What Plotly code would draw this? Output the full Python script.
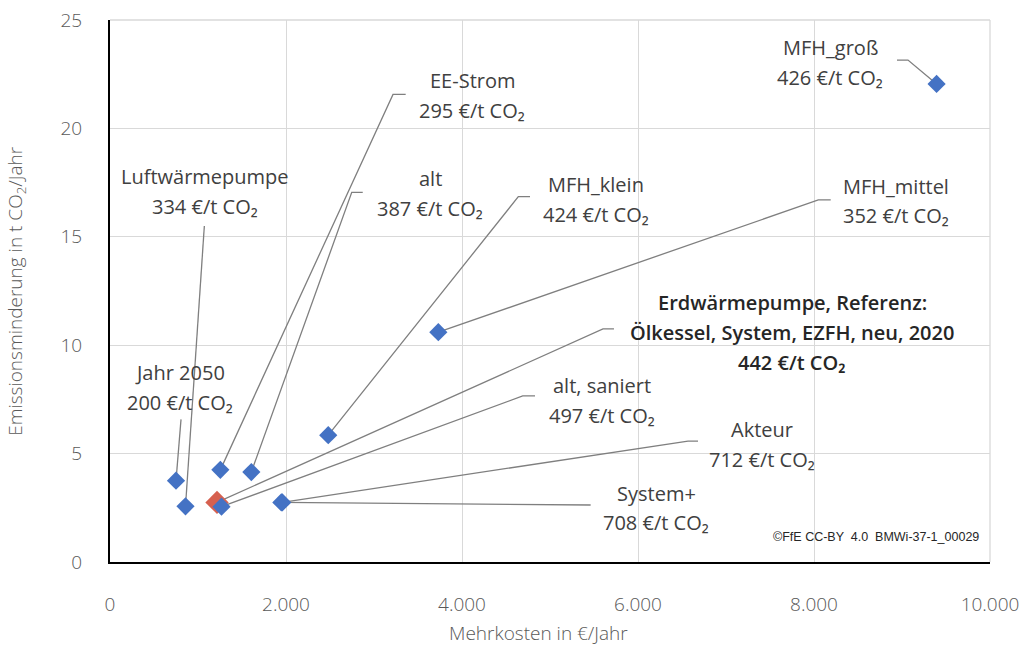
import plotly.graph_objects as go

# Heating options: additional cost (EUR/year) vs. CO2 reduction (t/year)
names = ["Jahr 2050", "Luftwärmepumpe", "EE-Strom", "alt", "alt, saniert",
         "System+", "Akteur", "MFH_klein", "MFH_mittel", "MFH_groß"]
mehrkosten = [750, 858, 1254, 1606, 1267, 1947, 1958, 2480, 3731, 9393]
minderung = [3.75, 2.57, 4.25, 4.15, 2.55, 2.75, 2.75, 5.85, 10.6, 22.05]
vermeidungskosten = [200, 334, 295, 387, 497, 708, 712, 424, 352, 426]

# Reference case (ground-source heat pump vs. oil boiler)
ref_name = ["Erdwärmepumpe, Referenz:", "Ölkessel, System, EZFH, neu, 2020"]
ref_kosten = [1216]
ref_minderung = [2.75]
ref_vermeidung = [442]

x_ticks = [0, 2000, 4000, 6000, 8000, 10000]
x_ticklabels = ["0", "2.000", "4.000", "6.000", "8.000", "10.000"]
y_ticks = [0, 5, 10, 15, 20, 25]

# Label placement: text centre (x, y of first line) and leader path (elbow, end)
label_layout = {
    "Jahr 2050":      dict(tx=795,  ty=8.73,  path=[(807, 6.58)]),
    "Luftwärmepumpe": dict(tx=1080, ty=17.76, path=[(1072, 15.5)]),
    "EE-Strom":       dict(tx=4114, ty=22.20, path=[(3216, 21.57), (3360, 21.57)]),
    "alt":            dict(tx=3640, ty=17.70, path=[(2747, 17.05), (2872, 17.05)]),
    "alt, saniert":   dict(tx=5590, ty=8.16,  path=[(4690, 7.66), (4830, 7.66)]),
    "System+":        dict(tx=6205, ty=3.18,  path=[(5341, 2.61), (5462, 2.63)]),
    "Akteur":         dict(tx=7410, ty=6.09,  path=[(6568, 5.58), (6682, 5.58)]),
    "MFH_klein":      dict(tx=5523, ty=17.40, path=[(4640, 16.85), (4773, 16.85)]),
    "MFH_mittel":     dict(tx=8930, ty=17.34, path=[(8049, 16.70), (8190, 16.70)]),
    "MFH_groß":       dict(tx=8187, ty=23.75, path=[(9068, 23.15), (8943, 23.15)]),
}
ref_layout = dict(tx=7750, ty=11.97, path=[(5602, 10.75), (5727, 10.75)])
LINE_GAP = 1.38

FONT = "Open Sans"
TEXT = "#404040"
LEADER = "#7f7f7f"
GRID = "#d9d9d9"

fig = go.Figure()


def leader(x0, y0, path):
    xs = [x0] + [p[0] for p in path]
    ys = [y0] + [p[1] for p in path]
    fig.add_trace(go.Scatter(x=xs, y=ys, mode="lines", hoverinfo="skip",
                             line=dict(color=LEADER, width=1.3), showlegend=False))


for n, xv, yv in zip(names, mehrkosten, minderung):
    leader(xv, yv, label_layout[n]["path"])
leader(ref_kosten[0], ref_minderung[0], ref_layout["path"])

fig.add_trace(go.Scatter(x=ref_kosten, y=ref_minderung, mode="markers",
                         marker=dict(symbol="diamond", size=18, color="#d6604f"),
                         showlegend=False))
fig.add_trace(go.Scatter(x=mehrkosten, y=minderung, mode="markers",
                         marker=dict(symbol="diamond", size=14, color="#4472c4"),
                         showlegend=False))

annotations = []
for n, v in zip(names, vermeidungskosten):
    lay = label_layout[n]
    for i, line in enumerate([n, f"{v} €/t CO₂"]):
        annotations.append(dict(x=lay["tx"], y=lay["ty"] - i * LINE_GAP, xref="x", yref="y",
                                text=line, showarrow=False, xanchor="center", yanchor="middle",
                                font=dict(family=FONT, size=20, color=TEXT)))
ref_lines = ref_name + [f"{ref_vermeidung[0]} €/t CO₂"]
for i, line in enumerate(ref_lines):
    annotations.append(dict(x=ref_layout["tx"], y=ref_layout["ty"] - i * LINE_GAP, xref="x", yref="y",
                            text=line, showarrow=False, xanchor="center", yanchor="middle",
                            font=dict(family=FONT, size=20, color="#262626", weight=600)))

# copyright note
annotations.append(dict(x=(981 - 110) / 880, y=(562 - 537) / 542, xref="paper", yref="paper",
                        text="©FfE CC-BY  4.0  BMWi-37-1_00029", showarrow=False,
                        xanchor="right", yanchor="middle",
                        font=dict(family="Liberation Sans", size=12.5, color="#262626")))

# axis titles
annotations.append(dict(x=0.487, y=-0.131, xref="paper", yref="paper", showarrow=False,
                        text="Mehrkosten in €/Jahr", xanchor="center", yanchor="middle",
                        font=dict(family=FONT, size=19, color="#595959", weight=300)))
annotations.append(dict(x=-0.107, y=0.5, xref="paper", yref="paper", showarrow=False,
                        text="Emissionsminderung in t CO<sub>2</sub>/Jahr", textangle=-90,
                        xanchor="center", yanchor="middle",
                        font=dict(family=FONT, size=19, color="#595959", weight=300)))

# light frame on the top and right edges of the plot area
shapes = [
    dict(type="line", xref="paper", yref="paper", x0=0, x1=1, y0=1, y1=1,
         line=dict(color=GRID, width=1.3), layer="below"),
    dict(type="line", xref="paper", yref="paper", x0=1, x1=1, y0=0, y1=1,
         line=dict(color=GRID, width=1.3), layer="below"),
]

fig.update_layout(
    width=1024, height=648,
    margin=dict(l=110, r=34, t=20, b=86),
    paper_bgcolor="white", plot_bgcolor="white",
    showlegend=False,
    annotations=annotations,
    shapes=shapes,
    xaxis=dict(range=[0, 10000], tickvals=x_ticks, ticktext=x_ticklabels, automargin=False,
               showgrid=True, gridcolor=GRID, gridwidth=1.3,
               showline=True, linecolor="black", linewidth=2,
               zeroline=False, ticks="outside", ticklen=24, tickcolor="rgba(0,0,0,0)",
               tickfont=dict(family=FONT, size=19, color="#595959", weight=300)),
    yaxis=dict(range=[0, 25], tickvals=y_ticks, automargin=False,
               showgrid=True, gridcolor=GRID, gridwidth=1.3,
               showline=True, linecolor="black", linewidth=2,
               zeroline=False, ticks="outside", ticklen=22, tickcolor="rgba(0,0,0,0)",
               tickfont=dict(family=FONT, size=19, color="#595959", weight=300)),
)

fig.write_html("out.html")
